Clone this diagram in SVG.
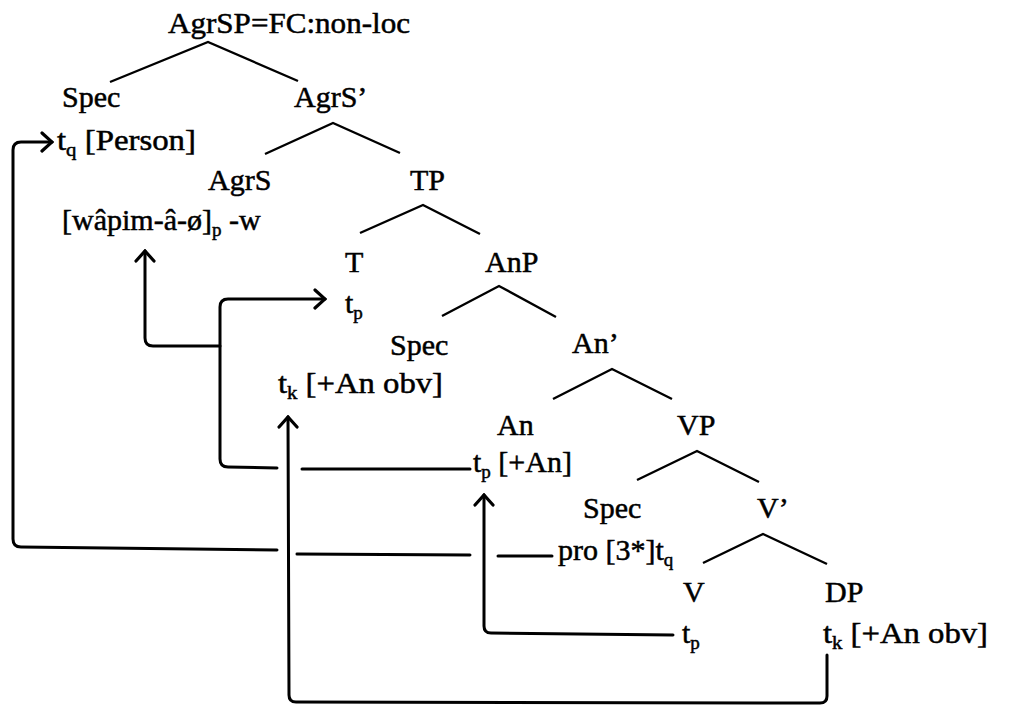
<svg xmlns="http://www.w3.org/2000/svg" width="1022" height="708" viewBox="0 0 1022 708">
<defs>
<style>
text{font-family:"Liberation Serif","Times New Roman",serif;font-size:30px;fill:#000;stroke:#000;stroke-width:0.5}
.sub{font-size:19px}
.tree{fill:none;stroke:#000;stroke-width:2.4;stroke-linejoin:miter}
.mv{fill:none;stroke:#000;stroke-width:3;stroke-linejoin:round;stroke-linecap:round}
</style>
<marker id="ah" viewBox="0 0 14 22" refX="12" refY="11" markerWidth="14" markerHeight="22" markerUnits="userSpaceOnUse" orient="auto">
<path d="M2,2 L12,11 L2,20" fill="none" stroke="#000" stroke-width="3.2" stroke-linecap="round" stroke-linejoin="miter"/>
</marker>
</defs>
<rect width="1022" height="708" fill="#fff"/>
<g id="AgrSP"><text x="168" y="33" textLength="242" lengthAdjust="spacingAndGlyphs">AgrSP=FC:non-loc</text></g>
<g id="SpecAgrS"><text x="62" y="107">Spec</text><text x="57" y="150" textLength="139" lengthAdjust="spacingAndGlyphs">t<tspan class="sub" dy="6">q</tspan><tspan dy="-6"> [Person]</tspan></text></g>
<g id="AgrSbar"><text x="294" y="107">AgrS’</text></g>
<g id="AgrS"><text x="208" y="190">AgrS</text><text x="62" y="230">[wâpim-â-ø]<tspan class="sub" dy="6">p</tspan><tspan dy="-6"> -w</tspan></text></g>
<g id="TP"><text x="410" y="190">TP</text></g>
<g id="T"><text x="345" y="272">T</text><text x="345" y="313">t<tspan class="sub" dy="6">p</tspan></text></g>
<g id="AnP"><text x="485" y="272">AnP</text></g>
<g id="SpecAn"><text x="390" y="355">Spec</text><text x="278" y="393" textLength="165" lengthAdjust="spacingAndGlyphs">t<tspan class="sub" dy="6">k</tspan><tspan dy="-6"> [+An obv]</tspan></text></g>
<g id="Anbar"><text x="572" y="353">An’</text></g>
<g id="An"><text x="497" y="435">An</text><text x="473" y="472">t<tspan class="sub" dy="6">p</tspan><tspan dy="-6"> [+An]</tspan></text></g>
<g id="VP"><text x="677" y="435">VP</text></g>
<g id="SpecV"><text x="583" y="518">Spec</text><text x="558" y="560">pro [3*]t<tspan class="sub" dy="6">q</tspan></text></g>
<g id="Vbar"><text x="757" y="518">V’</text></g>
<g id="V"><text x="683" y="602">V</text><text x="682" y="643">t<tspan class="sub" dy="6">p</tspan></text></g>
<g id="DP"><text x="825" y="602">DP</text><text x="823" y="643" textLength="165" lengthAdjust="spacingAndGlyphs">t<tspan class="sub" dy="6">k</tspan><tspan dy="-6"> [+An obv]</tspan></text></g>
<g id="connectors">
<g id="branches">
<path class="tree" d="M110,82 L208,42 L298,81"/>
<path class="tree" d="M265,154 L333,123 L400,153"/>
<path class="tree" d="M360,233 L423,205 L480,234"/>
<path class="tree" d="M442,316 L499,286 L556,317"/>
<path class="tree" d="M553,399 L612,369 L672,399"/>
<path class="tree" d="M637,480 L697,451 L759,482"/>
<path class="tree" d="M703,563 L763,534 L827,564"/>
</g>
<g id="movement">
<path class="mv" d="M552,556 L498,556"/>
<path class="mv" d="M470,555 L297,554"/>
<path class="mv" d="M277,550 L21,547 Q13,547 13,539 L13,150 Q13,142 21,142 L52,142" marker-end="url(#ah)"/>
<path class="mv" d="M827,655 L827,696 Q827,703 820,703 L296,702 Q289,702 289,695 L288,417" marker-end="url(#ah)"/>
<path class="mv" d="M673,635 L491,633 Q484,633 484,626 L484,495" marker-end="url(#ah)"/>
<path class="mv" d="M470,469 L302,469"/>
<path class="mv" d="M277,468 L228,467 Q220,467 220,459 L220,307 Q220,299 228,299 L325,299" marker-end="url(#ah)"/>
<path class="mv" d="M220,346 L153,346 Q145,346 145,338 L145,251" marker-end="url(#ah)"/>
</g>
</g>
</svg>
